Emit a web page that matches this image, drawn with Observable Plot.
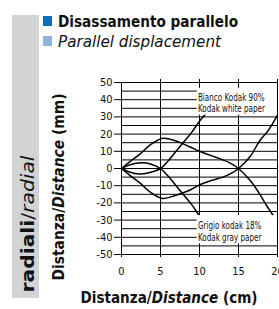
<!DOCTYPE html>
<html><head><meta charset="utf-8">
<script src="https://cdn.jsdelivr.net/npm/d3@7"></script>
<script src="https://cdn.jsdelivr.net/npm/@observablehq/plot@0.6"></script>
<style>
body{margin:0;background:#fff;}
#wrap{position:relative;width:279px;height:309px;overflow:hidden;font-family:"DejaVu Sans Condensed","DejaVu Sans",sans-serif;color:#111;}
.abs{position:absolute;white-space:nowrap;line-height:1;}
#wrap svg{position:absolute;left:0;top:0;}
</style></head><body><div id="wrap"></div>
<script>
// ---- data ----
const curve1X = [0, 1, 2.4, 3.6, 5.3, 7, 8.8, 10, 11.5, 13, 14, 15, 16.5, 17.6, 18.6, 20];
const curve1Y = [0, 3.7, 8.5, 13.4, 17.6, 16, 12.5, 10, 7.5, 5, 3, 0, -7, -14, -21.5, -31];
const curve2X = [0, 1, 2.3, 3.5, 5, 6, 7, 8, 9, 10, 11, 12];
const curve2Y = [0, -2, -3.2, -2.5, 0, 4.5, 10, 15.5, 21, 27.5, 33, 39];
const curve3X = [0, 1, 2.6, 3.8, 5, 6, 7, 8, 9, 10, 11, 12];
const curve3Y = [0, 2, 3.3, 2.5, 0, -4.5, -10, -15.5, -21, -27.5, -33, -39];
const curve4X = [0, 1, 2.4, 3.6, 5.3, 7, 8.8, 10, 11.5, 13, 14, 15, 16.5, 17.7, 18.8, 20];
const curve4Y = [0, -3.7, -8.5, -13.4, -17.4, -15.5, -12.5, -9.5, -7, -5, -3, 0, 7, 16, 22, 31];

const xTicks = [0, 5, 10, 15, 20];
const yTicks = [-50, -40, -30, -20, -10, 0, 10, 20, 30, 40, 50];
const yGrid = [-50, -45, -40, -35, -30, -25, -20, -15, -10, -5, 0, 5, 10, 15, 20, 25, 30, 35, 40, 45, 50];

const labelText = ["Bianco Kodak 90%", "Kodak white paper", "Grigio kodak 18%", "Kodak gray paper"];
const labelX = [9.8, 9.8, 9.8, 9.8];
const labelY = [41, 34.6, -33.3, -40.3];
const boxX1 = [9.7, 9.7];
const boxX2 = [20, 20];
const boxY1 = [31, -43.8];
const boxY2 = [46.6, -27.4];

const titleText = "Disassamento parallelo";
const subtitleText = "Parallel displacement";

// ---- build tables ----
const rows = [];
[[curve1X, curve1Y, "c1"], [curve2X, curve2Y, "c2"], [curve3X, curve3Y, "c3"], [curve4X, curve4Y, "c4"]]
  .forEach(([xs, ys, name]) => xs.forEach((x, i) => rows.push({series: name, x, y: ys[i]})));
const labels = labelText.map((t, i) => ({t, x: labelX[i], y: labelY[i]}));
const boxes = boxX1.map((x1, i) => ({x1, x2: boxX2[i], y1: boxY1[i], y2: boxY2[i]}));

const wrap = document.getElementById("wrap");

// background band
const band = document.createElement("div");
band.className = "abs";
Object.assign(band.style, {left: "12px", top: "15px", width: "27px", height: "283px", background: "#d2d3d5"});
wrap.appendChild(band);

const chart = Plot.plot({
  width: 279, height: 309,
  marginLeft: 121, marginRight: 2, marginTop: 82, marginBottom: 55,
  style: {background: "transparent", fontFamily: '"DejaVu Sans Condensed","DejaVu Sans",sans-serif', fontSize: "11px", color: "#111", overflow: "visible"},
  x: {domain: [0, 20]},
  y: {domain: [-50, 50]},
  marks: [
    Plot.ruleY(yGrid, {x1: 0, x2: 20, stroke: "#000", strokeWidth: 1}),
    Plot.ruleX(xTicks, {y1: -50, y2: 50, stroke: "#000", strokeWidth: 1}),
    Plot.axisY({ticks: yTicks, tickSize: 7, tickPadding: 2, label: null, tickFormat: d => String(d), stroke: "#000"}),
    Plot.axisX({ticks: xTicks, tickSize: 3, tickPadding: 10, label: null, tickFormat: d => String(d), stroke: "#000"}),
    Plot.axisX({anchor: "top", ticks: xTicks.slice(1), tickSize: 4, label: null, tickFormat: () => "", stroke: "#000"}),
    Plot.line(rows, {x: "x", y: "y", z: "series", curve: "catmull-rom", stroke: "#000", strokeWidth: 1.5}),
    Plot.rect(boxes, {x1: "x1", x2: "x2", y1: "y1", y2: "y2", fill: "#fff"}),
    Plot.text(labels, {x: "x", y: "y", text: "t", textAnchor: "start", fontSize: 10, fill: "#111"})
  ]
});
wrap.appendChild(chart);

// squeeze label texts horizontally (the reference uses a narrow face)
d3.select(chart).selectAll("text").each(function() {
  if (!labelText.includes(this.textContent)) return;
  const tr = this.getAttribute("transform") || "";
  const x = +this.getAttribute("x") || 0, y = +this.getAttribute("y") || 0;
  this.setAttribute("transform", `${tr} translate(${x},${y}) scale(0.8,1) translate(${-x},${-y})`);
});

function addText(parts, o) {
  const el = document.createElement("div");
  el.className = "abs";
  el.style.fontSize = o.size + "px";
  el.style.fontWeight = o.weight || "normal";
  parts.forEach(p => {
    const s = document.createElement("span");
    s.textContent = p.t;
    if (p.italic) s.style.fontStyle = "italic";
    if (p.weight) s.style.fontWeight = p.weight;
    el.appendChild(s);
  });
  wrap.appendChild(el);
  const w = el.getBoundingClientRect().width;
  const s = o.w / w;
  el.style.left = o.x + "px";
  el.style.top = o.y + "px";
  if (o.rotate) el.style.transform = `translate(-50%,-50%) rotate(-90deg) scaleX(${s})`;
  else if (o.center) el.style.transform = `translate(-50%,-50%) scaleX(${s})`;
  else { el.style.transformOrigin = "0 50%"; el.style.transform = `translate(0,-50%) scaleX(${s})`; }
  return el;
}
function addSquare(x, y, color) {
  const d = document.createElement("div");
  d.className = "abs";
  Object.assign(d.style, {left: x + "px", top: y + "px", width: "9px", height: "10px", background: color});
  wrap.appendChild(d);
}

addSquare(43, 16, "#0b6fbf");
addSquare(43, 36, "#8db3df");
addText([{t: titleText}], {x: 58, y: 21.5, w: 180, size: 16, weight: "bold"});
addText([{t: subtitleText, italic: true}], {x: 58, y: 42, w: 163, size: 16});
addText([{t: "radiali", weight: "bold"}, {t: "/"}, {t: "radial", italic: true, weight: "300"}], {x: 28, y: 223.5, w: 137, size: 18, rotate: true});
addText([{t: "Distanza/"}, {t: "Distance", italic: true}, {t: " (mm)"}], {x: 58.5, y: 186.5, w: 187, size: 15, weight: "bold", rotate: true});
addText([{t: "Distanza/"}, {t: "Distance", italic: true}, {t: " (cm)"}], {x: 168.5, y: 297.5, w: 177, size: 15, weight: "bold", center: true});
</script></body></html>
